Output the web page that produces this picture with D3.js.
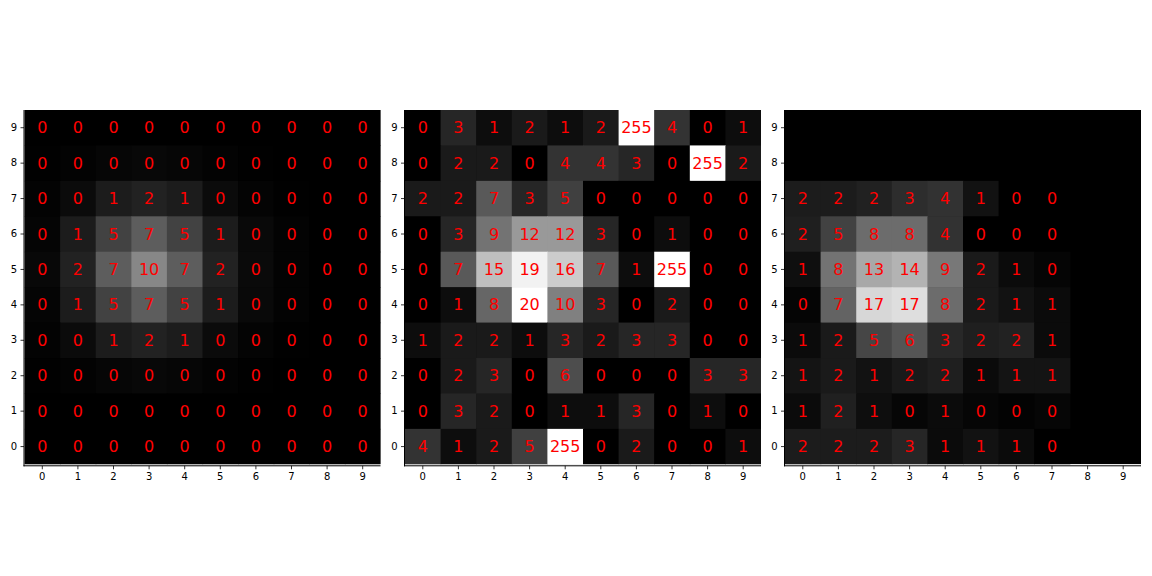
<!DOCTYPE html>
<html><head><meta charset="utf-8">
<script src="https://cdn.jsdelivr.net/npm/d3@7"></script>
<style>body{margin:0;background:#fff}svg{display:block}</style>
</head><body>
<script>
// rows listed from top (row 9) to bottom (row 0)
const ticks = [0,1,2,3,4,5,6,7,8,9];

const panel1Labels = [
 [0,0,0,0,0,0,0,0,0,0],
 [0,0,0,0,0,0,0,0,0,0],
 [0,0,1,2,1,0,0,0,0,0],
 [0,1,5,7,5,1,0,0,0,0],
 [0,2,7,10,7,2,0,0,0,0],
 [0,1,5,7,5,1,0,0,0,0],
 [0,0,1,2,1,0,0,0,0,0],
 [0,0,0,0,0,0,0,0,0,0],
 [0,0,0,0,0,0,0,0,0,0],
 [0,0,0,0,0,0,0,0,0,0]
];
const panel1Values = [
 [0,0,0,0,0,0,0,0,0,0],
 [0.1,0.2,0.5,0.6,0.5,0.2,0.1,0,0,0],
 [0.2,0.9,2.2,2.7,2.2,0.9,0.3,0.1,0,0],
 [0.4,2.2,5.2,7.3,5.2,2.2,0.7,0.2,0,0],
 [0.6,2.7,7.3,10.6,7.3,2.7,0.8,0.2,0,0],
 [0.4,2.2,5.2,7.3,5.2,2.2,0.7,0.2,0,0],
 [0.2,0.9,2.2,2.7,2.2,0.9,0.3,0.1,0,0],
 [0.1,0.2,0.5,0.6,0.5,0.2,0.1,0,0,0],
 [0,0,0,0,0,0,0,0,0,0],
 [0,0,0,0,0,0,0,0,0,0]
];
const panel2Values = [
 [0,3,1,2,1,2,255,4,0,1],
 [0,2,2,0,4,4,3,0,255,2],
 [2,2,7,3,5,0,0,0,0,0],
 [0,3,9,12,12,3,0,1,0,0],
 [0,7,15,19,16,7,1,255,0,0],
 [0,1,8,20,10,3,0,2,0,0],
 [1,2,2,1,3,2,3,3,0,0],
 [0,2,3,0,6,0,0,0,3,3],
 [0,3,2,0,1,1,3,0,1,0],
 [4,1,2,5,255,0,2,0,0,1]
];
// panel 3: 8x8 block (rows 7..0, cols 0..7)
const panel3Labels = [
 [2,2,2,3,4,1,0,0],
 [2,5,8,8,4,0,0,0],
 [1,8,13,14,9,2,1,0],
 [0,7,17,17,8,2,1,1],
 [1,2,5,6,3,2,2,1],
 [1,2,1,2,2,1,1,1],
 [1,2,1,0,1,0,0,0],
 [2,2,2,3,1,1,1,0]
];
const panel3Values = [
 [2.2,2.2,2.6,3.5,3.9,1.4,0,0],
 [2.4,5.2,8.5,8.5,3.9,0,0,0],
 [1.2,9.0,13.2,14.0,9.4,2.0,0.9,0.4],
 [0.4,7.8,16.9,17.4,8.5,2.0,1.4,0.9],
 [0.9,2.0,5.5,6.7,3.1,2.4,2.7,0.9],
 [1.6,2.0,1.4,2.0,2.4,0.9,1.6,1.6],
 [0.9,2.5,1.1,0.5,0.9,0.5,0.2,0.5],
 [2.2,2.2,2.2,3.0,0.9,1.4,0.9,0]
];

const W = 1152, H = 576;
const svg = d3.select("body").append("svg").attr("width", W).attr("height", H);
const color = d3.scaleLinear().domain([0,20]).range(["#000000","#ffffff"]).clamp(true);

const plotTop = 110, imgBottom = 464.3, spineY = 465.8, size = 356;
const lefts = [24.5, 405, 785];

function cellsFrom(values, labels) {
  const out = [];
  const nr = values.length;
  values.forEach((row, i) => {
    const rowIdx = nr - 1 - i; // row 0 at bottom
    row.forEach((v, c) => out.push({row: rowIdx, col: c, v, label: labels ? labels[i][c] : v}));
  });
  return out;
}

const panels = [
  {cells: cellsFrom(panel1Values, panel1Labels)},
  {cells: cellsFrom(panel2Values, null)},
  {cells: cellsFrom(panel3Values, panel3Labels)}
];

const defs = svg.append("defs");

panels.forEach((p, k) => {
  const x0 = lefts[k];
  const x = d3.scaleBand().domain(ticks).range([x0, x0 + size]).padding(0);
  const y = d3.scaleBand().domain(ticks.slice().reverse()).range([plotTop, imgBottom]).padding(0);
  defs.append("clipPath").attr("id", "clip" + k).append("rect")
    .attr("x", x0).attr("y", plotTop).attr("width", size).attr("height", imgBottom - plotTop);
  const g = svg.append("g");
  const img = g.append("g").attr("clip-path", `url(#clip${k})`);
  img.append("rect").attr("x", x0).attr("y", plotTop).attr("width", size).attr("height", imgBottom - plotTop).attr("fill", "#000");
  img.selectAll("rect.cell").data(p.cells).join("rect").attr("class","cell")
    .attr("x", d => x(d.col)).attr("y", d => y(d.row))
    .attr("width", x.bandwidth() + 0.6).attr("height", y.bandwidth() + 0.6)
    .attr("fill", d => color(d.v));
  g.selectAll("text.lab").data(p.cells).join("text").attr("class","lab")
    .attr("x", d => x(d.col) + x.bandwidth()/2).attr("y", d => y(d.row) + y.bandwidth()/2)
    .attr("text-anchor","middle").attr("dominant-baseline","central")
    .attr("font-family","DejaVu Sans").attr("font-size", 16).attr("fill","#ff0000")
    .text(d => d.label);
  g.append("line").attr("x1", x0 - 0.5).attr("x2", x0 - 0.5).attr("y1", plotTop).attr("y2", spineY + 0.5)
    .attr("stroke","#000").attr("stroke-width",1);
  g.append("line").attr("x1", x0 - 1).attr("x2", x0 + size).attr("y1", spineY).attr("y2", spineY)
    .attr("stroke","#000").attr("stroke-width",1);
  const xAxis = d3.axisBottom(x).tickSize(3.5).tickPadding(3.5);
  const yAxis = d3.axisLeft(y).tickSize(3.5).tickPadding(3.5);
  const gx = g.append("g").attr("transform", `translate(0,${spineY})`).call(xAxis);
  const gy = g.append("g").attr("transform", `translate(${x0 - 0.5},0)`).call(yAxis);
  [gx, gy].forEach(a => {
    a.select(".domain").remove();
    a.selectAll("line").attr("stroke","#000").attr("stroke-width",0.8);
    a.selectAll("text").attr("font-family","DejaVu Sans").attr("font-size",10).attr("fill","#000");
  });
});
</script>
</body></html>
